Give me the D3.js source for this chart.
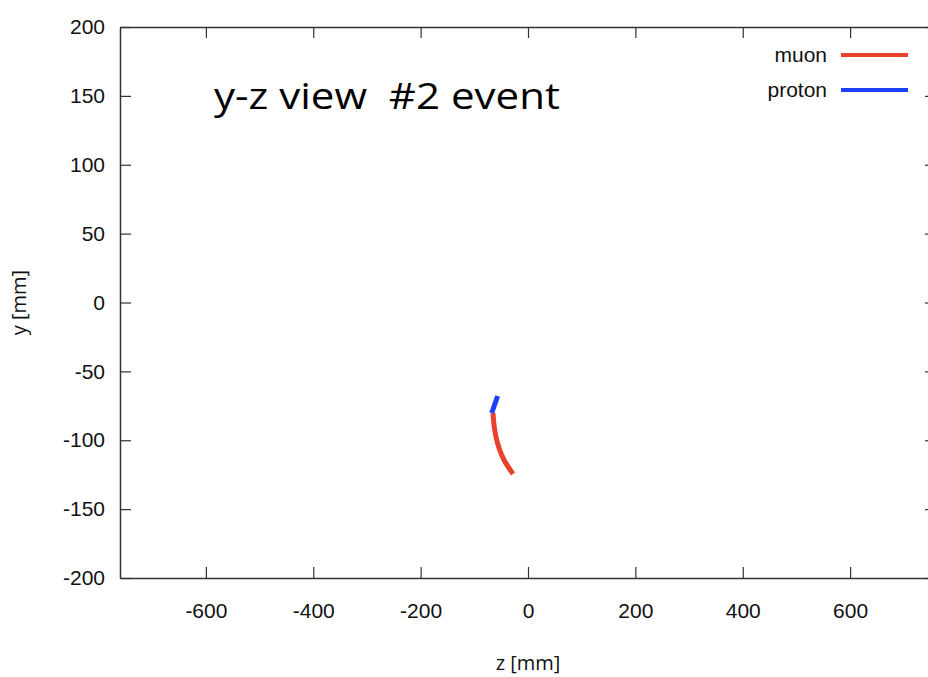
<!DOCTYPE html>
<html>
<head>
<meta charset="utf-8">
<script src="https://cdn.jsdelivr.net/npm/d3@7"></script>
<style>
  html, body { margin: 0; padding: 0; background: #fff; overflow: hidden; }
  svg { display: block; }
</style>
</head>
<body>
<svg id="stage"></svg>
<script>
/* ---------- data ---------- */

const x_ticks = [-600, -400, -200, 0, 200, 400, 600];
const y_ticks = [-200, -150, -100, -50, 0, 50, 100, 150, 200];

const muon_z = [-65.2, -63.3, -59.6, -54, -44.7, -28];
const muon_y = [-80.3, -88.9, -97.6, -105.6, -114.3, -124.5];
const proton_z = [-56.5, -67.6];
const proton_y = [-67.9, -80.2];

const legend_names = ["muon", "proton"];
const legend_colors = ["#e8412c", "#1e40f4"];

/* ---------- setup ---------- */

const width = 928;
const height = 677;

const svg = d3.select("#stage")
  .attr("width", width)
  .attr("height", height);

const x = d3.scaleLinear().domain([-760, 760]).range([120, 936]);
const y = d3.scaleLinear().domain([-200, 200]).range([578, 27]);

const tick_font = "'Liberation Sans', Arial, sans-serif";
const text_font = "'Open Sans', 'Noto Sans', sans-serif";
const plain = d => String(d);

/* ---------- axes ---------- */

const bottom = svg.append("g")
  .attr("transform", `translate(0, ${y(-200)})`)
  .call(d3.axisBottom(x).tickValues(x_ticks).tickFormat(plain).tickSize(-11).tickPadding(25).tickSizeOuter(0));

const top_axis = svg.append("g")
  .attr("transform", `translate(0, ${y(200)})`)
  .call(d3.axisTop(x).tickValues(x_ticks).tickSize(-11).tickFormat("").tickSizeOuter(0));

const left = svg.append("g")
  .attr("transform", `translate(${x(-760)}, 0)`)
  .call(d3.axisLeft(y).tickValues(y_ticks).tickFormat(plain).tickSize(-11).tickPadding(15).tickSizeOuter(0));

const right = svg.append("g")
  .attr("transform", `translate(${x(760)}, 0)`)
  .call(d3.axisRight(y).tickValues(y_ticks).tickSize(-11).tickFormat("").tickSizeOuter(0));

[bottom, top_axis, left, right].forEach(a => {
  a.select(".domain").attr("stroke", "#333").attr("stroke-width", 1.5);
  a.selectAll(".tick line").attr("stroke", "#333").attr("stroke-width", 1.2);
  a.selectAll(".tick text")
    .attr("fill", "#111")
    .attr("font-family", tick_font)
    .attr("font-size", 21);
});

/* ---------- tracks ---------- */

const line = d3.line()
  .x(d => x(d[0]))
  .y(d => y(d[1]))
  .curve(d3.curveNatural);

svg.append("path")
  .datum(muon_z.map((z, i) => [z, muon_y[i]]))
  .attr("d", line)
  .attr("fill", "none")
  .attr("stroke", legend_colors[0])
  .attr("stroke-width", 5);

svg.append("path")
  .datum(proton_z.map((z, i) => [z, proton_y[i]]))
  .attr("d", line)
  .attr("fill", "none")
  .attr("stroke", legend_colors[1])
  .attr("stroke-width", 5);

/* ---------- legend ---------- */

const legend = svg.append("g");
legend_names.forEach((name, i) => {
  const ly = 55 + i * 35;
  legend.append("text")
    .attr("x", 827)
    .attr("y", ly)
    .attr("dy", "0.35em")
    .attr("text-anchor", "end")
    .attr("font-family", tick_font)
    .attr("font-size", 21)
    .attr("fill", "#111")
    .text(name);
  legend.append("line")
    .attr("x1", 841).attr("x2", 908)
    .attr("y1", ly).attr("y2", ly)
    .attr("stroke", legend_colors[i])
    .attr("stroke-width", 4);
});

/* ---------- labels ---------- */

svg.append("text")
  .attr("x", 214)
  .attr("y", 109)
  .attr("font-family", text_font)
  .attr("font-size", 37)
  .attr("fill", "#000")
  .attr("textLength", 346)
  .attr("lengthAdjust", "spacingAndGlyphs")
  .attr("xml:space", "preserve")
  .style("white-space", "pre")
  .text("y-z view  #2 event");

svg.append("text")
  .attr("x", 528)
  .attr("y", 670)
  .attr("text-anchor", "middle")
  .attr("font-family", text_font)
  .attr("font-size", 20)
  .attr("fill", "#111")
  .text("z [mm]");

svg.append("text")
  .attr("transform", `translate(26, ${y(0)}) rotate(-90)`)
  .attr("text-anchor", "middle")
  .attr("font-family", text_font)
  .attr("font-size", 20)
  .attr("fill", "#111")
  .text("y [mm]");
</script>
</body>
</html>
